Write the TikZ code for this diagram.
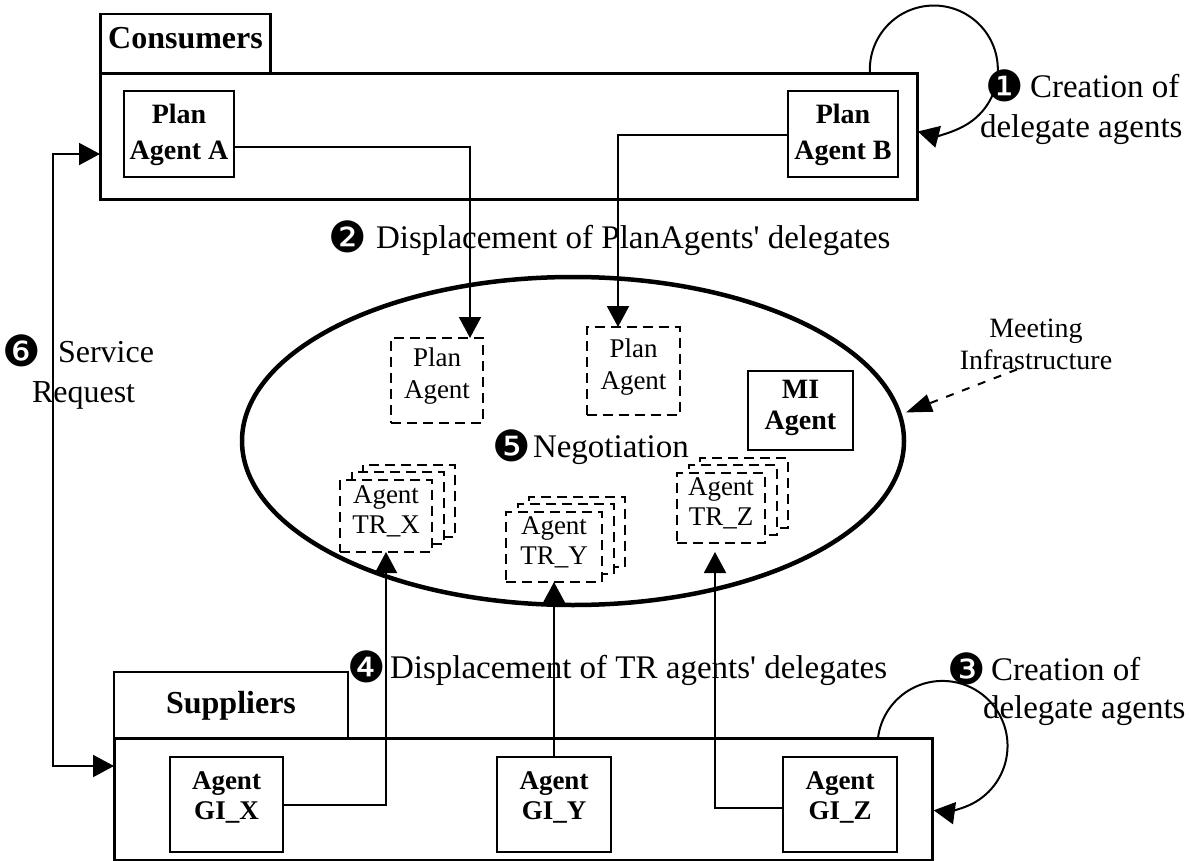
\documentclass[tikz,border=0pt]{standalone}
\usepackage{fontspec}
\setmainfont{Liberation Serif}
\newfontfamily\bulletfont{DejaVu Sans}
\usetikzlibrary{arrows.meta,calc,shapes.geometric}

% black circled step numbers, in a box of fixed width
\newcommand{\numbul}[1]{\makebox[24pt][c]{\raisebox{-4pt}{\bulletfont\fontsize{43}{43}\selectfont #1}}}
% move box text up without changing its size
\newcommand{\liftby}[2]{\raisebox{#1}[\height][\depth]{#2}}

\begin{document}
\begin{tikzpicture}[x=1pt,y=-1pt,
  every node/.style={inner sep=0pt, outer sep=0pt},
  outerbox/.style={draw, line width=3pt},
  tabbox/.style={draw, line width=2.5pt, font=\fontsize{32}{36}\selectfont\bfseries},
  agentbox/.style={draw, line width=2.5pt, fill=white,
    font=\fontsize{28}{36}\selectfont\bfseries},
  delegatebox/.style={draw, line width=2.5pt, dash pattern=on 10pt off 6pt,
    fill=white, font=\fontsize{27}{30}\selectfont},
  lbl/.style={font=\fontsize{33}{40}\selectfont, align=left},
  conn/.style={line width=2pt, -{Triangle[length=21pt,width=22pt]}},
]
\useasboundingbox (0,0) rectangle (1191,861);

% ---------- meeting place ----------
\node[draw, ellipse, line width=4.5pt, minimum width=662pt, minimum height=328pt] (ell) at (573,441) {};

% ---------- consumers ----------
\node[tabbox, minimum width=170pt, text height=35pt, text depth=25pt] (constab) at (185.5,44) {Consumers};
\node[outerbox, minimum width=817pt, minimum height=126pt] (cons) at (508.5,137) {};
\node[agentbox, minimum width=110pt, minimum height=86pt] (pa) at (179,134)
  {\begin{tabular}{@{}c@{}}Plan\\Agent A\end{tabular}};
\node[agentbox, minimum width=110pt, minimum height=86pt] (pb) at (843,134)
  {\begin{tabular}{@{}c@{}}Plan\\Agent B\end{tabular}};

% ---------- suppliers ----------
\node[tabbox, minimum width=234pt, text height=41pt, text depth=25pt] (suptab) at (231,705) {Suppliers};
\node[outerbox, minimum width=818pt, minimum height=122pt] (sup) at (523,799) {};
\node[agentbox, minimum width=113pt, minimum height=95pt] (gix) at (226.5,804.5)
  {\fontsize{27}{30}\selectfont\liftby{6pt}{\begin{tabular}{@{}c@{}}Agent\\GI\_X\end{tabular}}};
\node[agentbox, minimum width=114pt, minimum height=95pt] (giy) at (554,804.5)
  {\fontsize{27}{30}\selectfont\liftby{6pt}{\begin{tabular}{@{}c@{}}Agent\\GI\_Y\end{tabular}}};
\node[agentbox, minimum width=114pt, minimum height=95pt] (giz) at (840,804.5)
  {\fontsize{27}{30}\selectfont\liftby{6pt}{\begin{tabular}{@{}c@{}}Agent\\GI\_Z\end{tabular}}};

% ---------- delegates inside the meeting place ----------
\node[delegatebox, minimum width=92pt, minimum height=85pt] (pd1) at (437,380.5)
  {\fontsize{27}{32}\selectfont\liftby{4pt}{\begin{tabular}{@{}c@{}}Plan\\Agent\end{tabular}}};
\node[delegatebox, minimum width=93pt, minimum height=88pt] (pd2) at (633.5,371)
  {\fontsize{27}{32}\selectfont\liftby{4pt}{\begin{tabular}{@{}c@{}}Plan\\Agent\end{tabular}}};
\node[agentbox, minimum width=105pt, minimum height=79pt] (mi) at (800.5,410.5)
  {\fontsize{28}{31}\selectfont\liftby{3pt}{\begin{tabular}{@{}c@{}}MI\\Agent\end{tabular}}};

% stacked transport delegates (back, middle, front)
\node[delegatebox, minimum width=92pt, minimum height=72pt] (trxb) at (409,501) {};
\node[delegatebox, minimum width=92pt, minimum height=72pt] (trxm) at (398,508) {};
\node[delegatebox, minimum width=92pt, minimum height=72pt] (trx) at (386,516)
  {\liftby{4pt}{\begin{tabular}{@{}c@{}}Agent\\TR\_X\end{tabular}}};
\node[delegatebox, minimum width=96pt, minimum height=70pt] (tryb) at (577,532) {};
\node[delegatebox, minimum width=96pt, minimum height=70pt] (trym) at (566,539) {};
\node[delegatebox, minimum width=96pt, minimum height=70pt] (try) at (554,547)
  {\liftby{4pt}{\begin{tabular}{@{}c@{}}Agent\\TR\_Y\end{tabular}}};
\node[delegatebox, minimum width=88pt, minimum height=70pt] (trzb) at (744,493) {};
\node[delegatebox, minimum width=88pt, minimum height=70pt] (trzm) at (733,500) {};
\node[delegatebox, minimum width=88pt, minimum height=70pt] (trz) at (721,508)
  {\liftby{4pt}{\begin{tabular}{@{}c@{}}Agent\\TR\_Z\end{tabular}}};

% ---------- labels ----------
\node[lbl, anchor=west] (step1) at (980,107)
  {\hspace{13pt}\numbul{❶}\hspace{13pt}Creation of\\delegate agents};
\node[lbl, anchor=west] (step2) at (336,238)
  {\numbul{❷}\hspace{16pt}Displacement of PlanAgents\textquotesingle{} delegates};
\node[lbl, anchor=west, font=\fontsize{33}{38}\selectfont] (step3) at (955,689)
  {\numbul{❸}\hspace{12pt}Creation of\\\hspace{28pt}delegate agents};
\node[lbl, anchor=west] (step4) at (355,668)
  {\numbul{❹}\hspace{11pt}Displacement of TR agents\textquotesingle{} delegates};
\node[lbl, anchor=west] (step5) at (500,447)
  {\numbul{❺}\hspace{9pt}Negotiation};
\node[lbl, anchor=west, font=\fontsize{32}{40}\selectfont] (step6) at (10,372)
  {\numbul{❻}\hspace{24pt}Service\\\hspace{22pt}Request};
\node[align=center, font=\fontsize{28}{32}\selectfont] (meet) at (1036,344)
  {Meeting\\Infrastructure};

% ---------- connectors ----------
% self-creation loops
\coordinate (loop1s) at ([xshift=-47pt]cons.north east);
\draw[conn] (loop1s) arc[start angle=176, end angle=464.5, radius=64];
\coordinate (loop3s) at ([xshift=-54pt]sup.north east);
\draw[conn] (loop3s) arc[start angle=187, end angle=457.8, radius=65];

% plan agents send their delegates
\draw[conn] ([yshift=-13pt]pa.east) -| ([xshift=-13pt]pd1.north east);
\draw[conn] ([yshift=-1pt]pb.west) -| ([xshift=31pt]pd2.north west);

% transport agents send their delegates
\draw[conn] (gix.east) -| (trx.south);
\draw[conn] (giy.north) -- (giy.north |- try.south);
\draw[conn] ([yshift=-3.5pt]giz.west) -| ([xshift=-6pt,yshift=-9pt]trz.south);

% service request between consumers and suppliers
\draw[line width=2pt, {Triangle[length=21pt,width=22pt]}-{Triangle[length=21pt,width=22pt]}]
  ([yshift=-17pt]cons.west) -- ++(-47,0) |- ([yshift=33pt]sup.west);

% meeting infrastructure pointer
\draw[line width=2pt, dash pattern=on 8pt off 9pt, -{Triangle[length=26pt,width=18pt]}]
  ([xshift=-19pt]meet.south) -- ([xshift=7pt]ell.5);

\end{tikzpicture}
\end{document}
